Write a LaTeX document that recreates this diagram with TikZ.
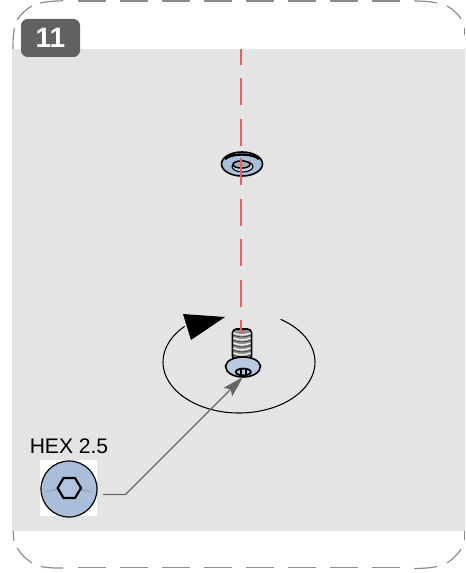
\documentclass[tikz,border=0pt]{standalone}
\usepackage{fontspec}
\setmainfont{Liberation Sans}
\usetikzlibrary{arrows.meta}
\definecolor{partblue}{HTML}{A9BFDA}
\definecolor{panelgray}{HTML}{E4E4E4}
\definecolor{axisred}{HTML}{F85A5A}
\tikzset{
	cutline/.style={line width=0.9pt, color=black!45},
	axisline/.style={line width=1.5pt, color=axisred},
	partline/.style={line width=1.2pt, color=black},
	leader/.style={line width=0.9pt, color=black!60, -{Stealth[length=16pt,width=9pt,inset=3pt]}}
}

\begin{document}
\begin{tikzpicture}[x=0.75pt, y=0.75pt, yscale=-1]
			%%%%% START %%%%%
			\useasboundingbox (0, 0) rectangle (465, 573);
			
			% cut border
			\foreach \px in {78, 120, 162, 204, 246, 288, 330, 372} {
				\draw[cutline] (\px, 1) -- ++(28, 0);
				\draw[cutline] (\px, 567.6) -- ++(28, 0);
			}
			\draw[cutline] (63, 0.8) .. controls (55, 1) and (47, 1.5) .. (40, 3);
			\draw[cutline] (32, 6) .. controls (26, 9) and (21, 14) .. (17, 20);
			\draw[cutline] (14.5, 28) -- (13.2, 36) -- (13, 50);
			\draw[cutline] (414, 1) .. controls (422, 1) and (430, 1.5) .. (437, 3);
			\draw[cutline] (447, 6) .. controls (453, 9) and (458, 14) .. (461, 19);
			\draw[cutline] (464.5, 28) -- (464.5, 35);
			\draw[cutline] (13, 530) -- (14, 541);
			\draw[cutline] (17, 548) .. controls (21, 554) and (26, 559) .. (32, 563);
			\draw[cutline] (41, 566.5) .. controls (47, 568) and (55, 568) .. (63, 568);
			\draw[cutline] (464.5, 531) -- (464.5, 540);
			\draw[cutline] (461, 549) .. controls (458, 554) and (453, 559) .. (447, 563);
			\draw[cutline] (437, 566.5) .. controls (430, 568) and (422, 568.5) .. (414, 568.5);
			
			\fill[panelgray] (12, 49) rectangle (465, 531);
			
			\node[fill=black!62, rounded corners=5pt, minimum width=44.25pt, minimum height=28.5pt, inner sep=0pt, text=white, font=\fontsize{21}{21}\selectfont\bfseries] (stepbadge) at (50.5, 38) {11};
			
			% washer
			\draw[partline, fill=partblue] (242, 164) ellipse (20.5 and 12);
			\draw[line width=1.8pt] (225, 159) .. controls (231, 153) and (253, 153) .. (259, 159);
			\draw[line width=0.8pt, fill=partblue!70!white] (242.5, 166.5) ellipse (10.5 and 5.5);
			\draw[line width=1.1pt, fill=partblue!60!black!60!white] (241.5, 164.5) ellipse (8.5 and 3.6);
			
			% axis
			\foreach \py in {119, 158, 199, 239, 280, 320} {
				\draw[axisline] (241, \py) -- ++(0, 27);
			}
			\draw[axisline] (241, 49) -- (241, 65.5);
			\draw[axisline] (241, 78.5) -- (241, 105.5);
			
			% turning arrow
			\draw[line width=0.8pt] (239, 362) ++(-56.8:76 and 51) arc[start angle=-56.8, end angle=224.3, x radius=76, y radius=51];
			\fill (183, 314) -- (225, 317) -- (191, 340) -- cycle;
			
			% screw
			\draw[partline, fill=black!45, rounded corners=3pt] (232.5, 360) -- (232.5, 329) -- (251.5, 329) -- (251.5, 360) -- cycle;
			\foreach \py in {332, 337, 342, 347, 352} {
				\draw[line width=1.2pt, color=white!92!black] (233.5, \py+1) .. controls (238, \py+3.5) and (246, \py+3.5) .. (250.5, \py+1);
				\draw[line width=0.6pt, color=black!70] (233.5, \py+3) .. controls (238, \py+5.5) and (246, \py+5.5) .. (250.5, \py+3);
			}
			\draw[axisline] (241, 320) -- (241, 333);
			\draw[partline, fill=partblue!85!white] (225.5, 366) .. controls (226.5, 360) and (235, 357) .. (243, 357) .. controls (251, 357) and (259.5, 360) .. (260.5, 366) .. controls (260.5, 373) and (252, 377) .. (243, 377) .. controls (234, 377) and (225.5, 373) .. (225.5, 366) -- cycle;
			\draw[line width=1.4pt] (243.3, 372) ellipse (7.5 and 3.4);
			\draw[line width=0.8pt] (241, 368.5) -- (241, 375.5);
			\draw[line width=0.8pt] (246, 368.5) -- (246, 375.5);
			
			% hex key icon
			\node[fill=white, minimum size=42.4pt, inner sep=0pt] (hexicon) at (68.5, 488) {};
			\node[font=\fontsize{15.8}{16}\selectfont] (hexlabel) at (69, 446) {HEX 2.5};
			\draw[line width=0.9pt, fill=partblue] (69, 489) circle (28);
			\fill[black!30!partblue, opacity=0.35] (43, 493) .. controls (55, 486) and (83, 486) .. (95, 493) .. controls (83, 490) and (55, 490) .. (43, 493) -- cycle;
			\draw[line width=1.6pt, fill=partblue!90!white] (57.7, 488) -- (63.5, 478) -- (75, 478) -- (81, 488) -- (75, 498) -- (63.5, 498) -- cycle;
			
			\coordinate (leadbend) at (125.5, 494.5);
			\coordinate (leadtip) at (243, 377);
			\draw[leader, shorten <=4.5pt] (hexicon.east |- leadbend) -- (leadbend) -- (leadtip);
			%%%%% END %%%%%
		\end{tikzpicture}
\end{document}
